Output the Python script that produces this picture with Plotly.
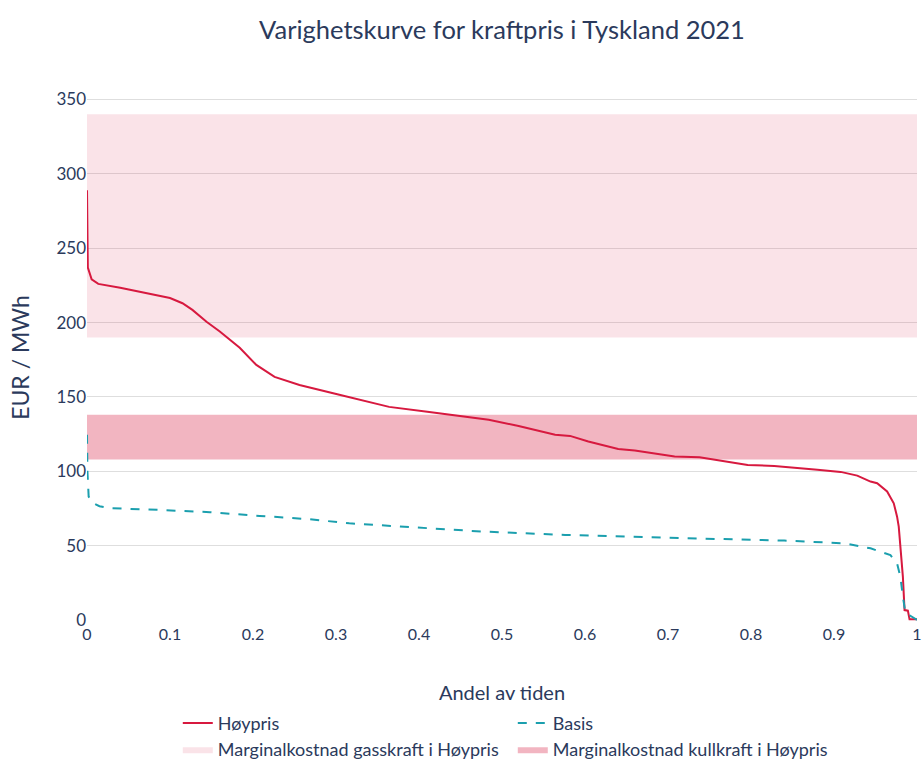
import plotly.graph_objects as go

# ---- data ----
share_hoy = [0, 0.0005, 0.001, 0.0056, 0.0136, 0.04, 0.07, 0.1, 0.115, 0.127, 0.144, 0.16, 0.184,
             0.204, 0.226, 0.256, 0.304, 0.364, 0.41, 0.456, 0.484, 0.52, 0.545, 0.564, 0.582,
             0.604, 0.64, 0.66, 0.708, 0.738, 0.796, 0.828, 0.88, 0.908, 0.928, 0.944, 0.952,
             0.964, 0.972, 0.976, 0.978, 0.983, 0.985, 0.989, 0.991, 1.0]
price_hoy = [289, 262, 237, 229, 226, 223.4, 220, 216.5, 213, 208.5, 200.5, 194, 183,
             171.5, 163.5, 158, 151.5, 143.3, 140, 136.4, 134.6, 130.5, 127, 124.5, 123.8,
             120, 115, 114, 110, 109.5, 104.3, 103.6, 101, 99.6, 97.1, 93.1, 92,
             86.4, 78.5, 69.5, 62.8, 29, 6.7, 6.3, 0.5, 0.5]

share_basis = [0, 0.0005, 0.002, 0.0076, 0.015, 0.028, 0.088, 0.148, 0.208, 0.268, 0.316, 0.376,
               0.476, 0.576, 0.672, 0.76, 0.84, 0.912, 0.944, 0.968, 0.976, 0.98, 0.983, 0.986, 1.0]
price_basis = [124.5, 100, 83, 78.5, 76.5, 75.2, 74, 72.5, 70, 67.8, 65, 62.8,
               59.5, 57.2, 56, 54.5, 53.4, 51.6, 48.2, 43.7, 38.1, 29, 15.7, 5, 0]

gas_band = [190, 340]    # marginal cost gas power, EUR/MWh (low, high)
coal_band = [108, 138]   # marginal cost coal power, EUR/MWh (low, high)
share_span = [0, 1]

TEXT = "#2b3a5c"
FONT = "Lato"


def band_trace(band, name, color, rank):
    lo, hi = band
    x0, x1 = share_span
    return go.Scatter(
        x=[x0, x1, x1, x0, x0], y=[lo, lo, hi, hi, lo],
        mode="lines", line=dict(width=0), fill="toself", fillcolor=color,
        name=name, legendrank=rank, hoverinfo="skip",
    )


fig = go.Figure()
fig.add_trace(band_trace(gas_band, "Marginalkostnad gasskraft i Høypris", "rgba(215,25,63,0.12)", 3))
fig.add_trace(band_trace(coal_band, "Marginalkostnad kullkraft i Høypris", "rgba(215,25,63,0.32)", 4))
fig.add_trace(go.Scatter(x=share_hoy, y=price_hoy, mode="lines", name="Høypris",
                         line=dict(color="#d7193f", width=2), legendrank=1))
fig.add_trace(go.Scatter(x=share_basis, y=price_basis, mode="lines", name="Basis",
                         line=dict(color="#1b9fae", width=2, dash="dash"), legendrank=2))

fig.update_layout(
    width=923, height=763,
    template="plotly_white",
    paper_bgcolor="white", plot_bgcolor="white",
    font=dict(family=FONT, color=TEXT, size=16),
    title=dict(text="Varighetskurve for kraftpris i Tyskland 2021", x=0.5, xref="paper",
               xanchor="center", y=0.9607, yref="container", yanchor="middle",
               font=dict(size=25.5, color=TEXT)),
    margin=dict(l=87, r=6, t=92, b=140, autoexpand=False),
    legend=dict(orientation="h", x=0.513, xanchor="center", y=-0.154, yanchor="top",
                font=dict(size=18, color=TEXT), bgcolor="rgba(0,0,0,0)",
                entrywidth=290, entrywidthmode="pixels"),
    showlegend=True,
)
fig.update_xaxes(range=[0, 1], dtick=0.1, showgrid=False, zeroline=False, showline=False,
                 automargin=False, ticklabeloverflow="allow",
                 title=dict(text="Andel av tiden", font=dict(size=20), standoff=43),
                 tickfont=dict(size=16), ticks="")
fig.update_yaxes(range=[-2, 355], dtick=50, gridcolor="#dedede", zeroline=True,
                 zerolinecolor="white", showline=False, ticks="",
                 automargin=False,
                 title=dict(text="EUR / MWh", font=dict(size=23), standoff=20),
                 tickfont=dict(size=17))

fig.write_html(
    "out.html",
    config={"displayModeBar": False},
    post_script="document.body.style.margin='0';document.body.style.overflow='hidden';",
)
